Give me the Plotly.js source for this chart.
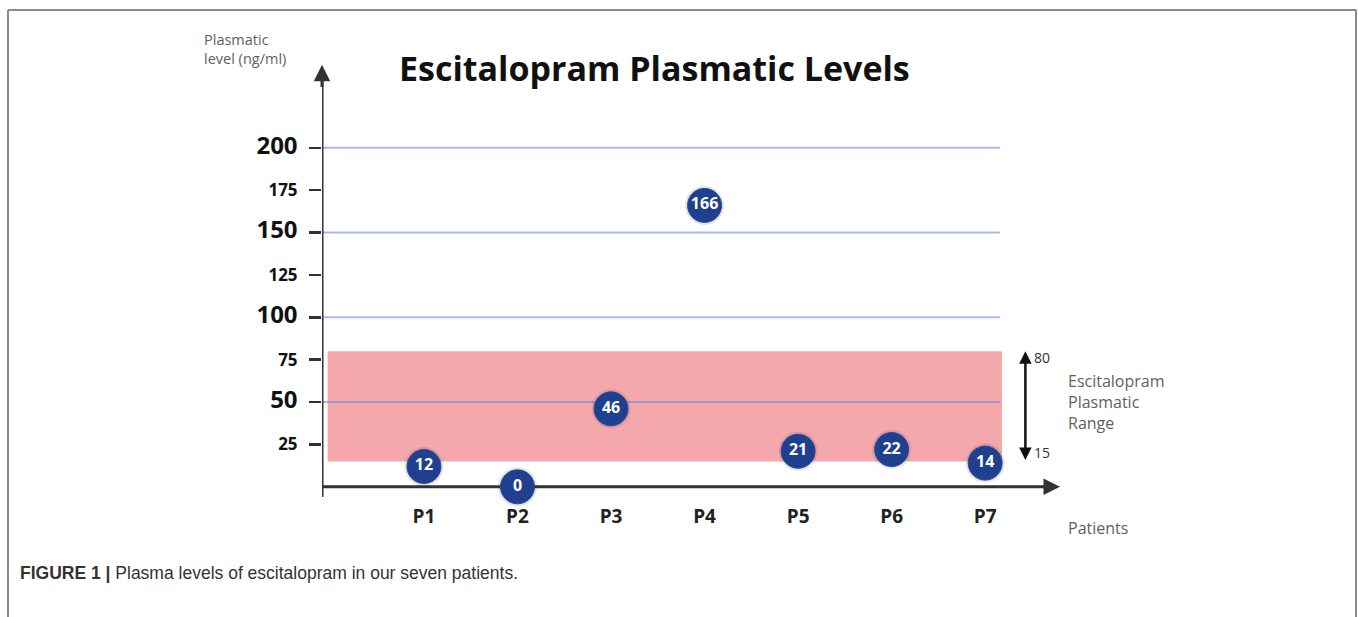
<!DOCTYPE html>
<html>
<head>
<meta charset="utf-8">
<script src="https://cdn.plot.ly/plotly-3.0.1.min.js"></script>
<style>html,body{margin:0;padding:0;background:#fff;}#chart{width:1358px;height:617px;}</style>
</head>
<body>
<div id="chart"></div>
<script>
const patients = ['P1', 'P2', 'P3', 'P4', 'P5', 'P6', 'P7'];
const levels = [12, 0, 46, 166, 21, 22, 14];
const yTickVals = [25, 50, 75, 100, 125, 150, 175, 200];
const majorTicks = [50, 100, 150, 200];
const gridVals = [50, 100, 150, 200];
const rangeLow = 15;
const rangeHigh = 80;

// plot area geometry (pixels)
const L = 322, R = 298, T = 63, B = 120, W = 1358 - L - R, H = 617 - T - B;
const px = p => (p - L) / W;
const py = p => (617 - B - p) / H;

const xMin = -1.09, xMax = 6.8, gridEnd = 6.16;
const yMin = -6, yMax = 250;

const yTickText = yTickVals.map(v => majorTicks.includes(v)
  ? '<span style="font-size:24px"><b>' + v + '</b></span>'
  : '<b>' + v + '</b>');

const shadow = {
  x: patients, y: levels, type: 'scatter', mode: 'markers',
  marker: {size: 39, color: 'rgba(40,40,60,0.12)'},
  hoverinfo: 'skip', showlegend: false, cliponaxis: false
};
const dots = {
  x: patients, y: levels, type: 'scatter', mode: 'markers+text',
  text: levels.map(String), textposition: 'middle center',
  textfont: {family: 'Open Sans', size: 16, color: '#ffffff', weight: 'bold'},
  marker: {size: 34, color: '#1f3f8f', line: {color: '#2a4a99', width: 1}},
  showlegend: false, cliponaxis: false
};

const axisColor = '#333333';
const shapes = [
  {type: 'rect', xref: 'x', yref: 'y', x0: -1.03, x1: 6.18, y0: rangeLow, y1: rangeHigh,
   fillcolor: '#f5a8ac', line: {width: 0}, layer: 'below'}
];
gridVals.forEach(v => shapes.push({
  type: 'line', xref: 'x', yref: 'y', x0: xMin, x1: gridEnd, y0: v, y1: v,
  line: {color: 'rgba(110,140,230,0.6)', width: 2}, layer: 'below'
}));
// axis lines (below markers)
shapes.push({type: 'line', xref: 'x', yref: 'y', x0: xMin - 0.03, x1: xMax - 0.15, y0: 0, y1: 0,
  line: {color: axisColor, width: 3}, layer: 'below'});
shapes.push({type: 'line', xref: 'x', yref: 'y', x0: xMin, x1: xMin, y0: yMin, y1: yMax - 10,
  line: {color: axisColor, width: 3}, layer: 'below'});
// figure frame
shapes.push({type: 'line', xref: 'paper', yref: 'paper', x0: px(8), x1: px(1356), y0: py(10), y1: py(10), line: {color: '#8a8a8a', width: 2}});
shapes.push({type: 'line', xref: 'paper', yref: 'paper', x0: px(8), x1: px(8), y0: py(10), y1: py(620), line: {color: '#8a8a8a', width: 2}});
shapes.push({type: 'line', xref: 'paper', yref: 'paper', x0: px(1356), x1: px(1356), y0: py(10), y1: py(620), line: {color: '#8a8a8a', width: 2}});

const gray = '#5f5f5f';
const annotations = [
  // y axis arrowhead
  {x: xMin, y: yMax - 1, ax: xMin, ay: yMax - 15, xref: 'x', yref: 'y', axref: 'x', ayref: 'y',
   text: '', showarrow: true, arrowhead: 2, arrowsize: 1.1, arrowwidth: 3, arrowcolor: axisColor},
  // x axis arrowhead
  {x: xMax, y: 0, ax: xMax - 0.2, ay: 0, xref: 'x', yref: 'y', axref: 'x', ayref: 'y',
   text: '', showarrow: true, arrowhead: 2, arrowsize: 1.1, arrowwidth: 3, arrowcolor: axisColor},
  // range double arrow
  {x: 6.43, y: rangeHigh, ax: 6.43, ay: rangeLow, xref: 'x', yref: 'y', axref: 'x', ayref: 'y',
   text: '', showarrow: true, arrowhead: 2, startarrowhead: 2, arrowside: 'end+start', arrowsize: 1, arrowwidth: 2.5, arrowcolor: '#111111'},
  {x: px(1032), y: py(357), xref: 'paper', yref: 'paper', xanchor: 'left', yanchor: 'middle',
   text: String(rangeHigh), showarrow: false, font: {family: 'Open Sans', size: 14, color: '#333'}},
  {x: px(1032), y: py(452), xref: 'paper', yref: 'paper', xanchor: 'left', yanchor: 'middle',
   text: String(rangeLow), showarrow: false, font: {family: 'Open Sans', size: 14, color: '#333'}},
  {x: px(1066), y: py(402), xref: 'paper', yref: 'paper', xanchor: 'left', yanchor: 'middle', align: 'left',
   text: 'Escitalopram<br>Plasmatic<br>Range', showarrow: false, font: {family: 'Open Sans', size: 16, color: gray}},
  {x: px(1066), y: py(528), xref: 'paper', yref: 'paper', xanchor: 'left', yanchor: 'middle',
   text: 'Patients', showarrow: false, font: {family: 'Open Sans', size: 16, color: gray}},
  {x: px(202), y: py(49), xref: 'paper', yref: 'paper', xanchor: 'left', yanchor: 'middle', align: 'left',
   text: 'Plasmatic<br>level (ng/ml)', showarrow: false, font: {family: 'Open Sans', size: 14.5, color: gray}},
  {x: px(397), y: py(68), xref: 'paper', yref: 'paper', xanchor: 'left', yanchor: 'middle',
   text: '<b>Escitalopram Plasmatic Levels</b>', showarrow: false, font: {family: 'Open Sans', size: 34, color: '#111'}},
  {x: px(18), y: py(573), xref: 'paper', yref: 'paper', xanchor: 'left', yanchor: 'middle',
   text: '<b>FIGURE 1 |</b> Plasma levels of escitalopram in our seven patients.', showarrow: false,
   font: {family: 'Liberation Sans, Arial', size: 17.5, color: '#333'}}
];

const layout = {
  width: 1358, height: 617,
  margin: {l: L, r: R, t: T, b: B, pad: 0},
  paper_bgcolor: '#ffffff', plot_bgcolor: 'rgba(0,0,0,0)',
  showlegend: false,
  xaxis: {type: 'category', categoryarray: patients, range: [xMin, xMax],
    showgrid: false, zeroline: false, showline: false, ticks: '',
    tickfont: {family: 'Open Sans', size: 19, color: '#222', weight: 'bold'}, ticklabelstandoff: 6},
  yaxis: {range: [yMin, yMax], showgrid: false, zeroline: false, showline: false,
    tickvals: yTickVals, ticktext: yTickText, ticks: 'outside', ticklen: 12, tickwidth: 2.5, tickcolor: axisColor,
    tickfont: {family: 'Open Sans', size: 17, color: '#111'}, ticklabelstandoff: 8},
  shapes: shapes,
  annotations: annotations
};

Plotly.newPlot('chart', [shadow, dots], layout, {displayModeBar: false, staticPlot: true});
</script>
</body>
</html>
